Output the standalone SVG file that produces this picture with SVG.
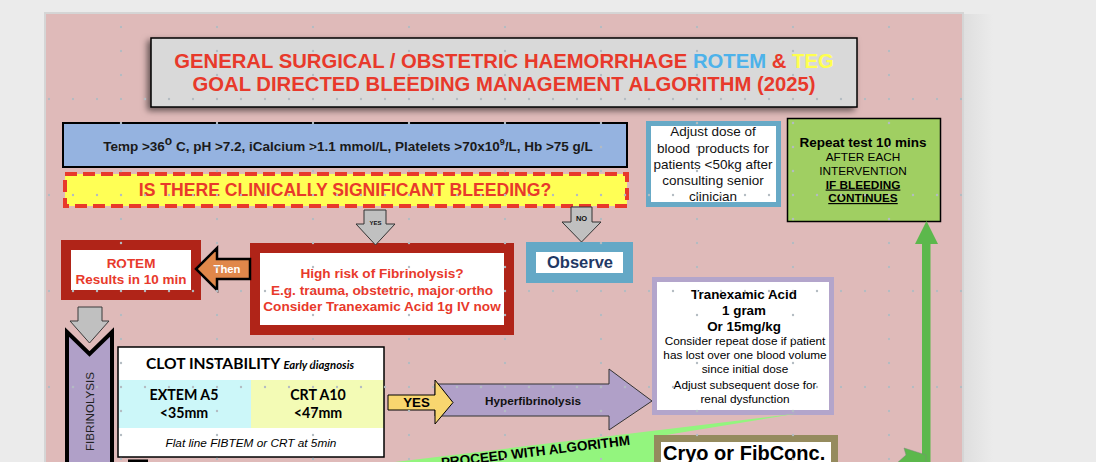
<svg xmlns="http://www.w3.org/2000/svg" width="1096" height="462" viewBox="0 0 1096 462">
<defs>
<style>
.s{font-family:"Liberation Sans",Arial,sans-serif}
.b{font-family:"Liberation Sans",Arial,sans-serif;font-weight:bold}
.c{font-family:Lato,"Open Sans",sans-serif;font-weight:bold}
.m{text-anchor:middle}
.redb{fill:#e8392b}
</style>
<filter id="shadow" x="-5%" y="-20%" width="110%" height="140%">
<feDropShadow dx="-3" dy="3" stdDeviation="3" flood-color="#000" flood-opacity="0.55"/>
</filter>
<pattern id="grid" patternUnits="userSpaceOnUse" x="23" y="1" width="96" height="96">
<g fill="#b3bcc2">
<circle cx="2" cy="2" r="1.2"/><circle cx="26" cy="2" r="1.2"/><circle cx="50" cy="2" r="1.2"/><circle cx="74" cy="2" r="1.2"/>
<circle cx="2" cy="26" r="1.2"/><circle cx="2" cy="50" r="1.2"/><circle cx="2" cy="74" r="1.2"/>
</g>
</pattern>
<linearGradient id="side" x1="0" x2="1" y1="0" y2="0">
<stop offset="0" stop-color="#dedede"/><stop offset="1" stop-color="#ebebeb"/>
</linearGradient>
</defs>
<rect width="1096" height="462" fill="#ebebeb"/>
<rect x="963" y="14" width="30" height="448" fill="url(#side)"/>
<rect x="45" y="13" width="918" height="452" fill="#dfbab9" stroke="#d5d5d5" stroke-width="2"/>

<g id="title">
<rect x="151" y="38" width="706" height="69" fill="#d9d9d9" stroke="#000" stroke-width="1.5" filter="url(#shadow)"/>
<text class="b m" x="504" y="68" font-size="20.3"><tspan fill="#e8392b">GENERAL SURGICAL / OBSTETRIC HAEMORRHAGE </tspan><tspan fill="#4db2ea">ROTEM</tspan><tspan fill="#e8392b"> &amp; </tspan><tspan fill="#ffff4f">TEG</tspan></text>
<text class="b m" x="504" y="91" font-size="20.3" fill="#e8392b">GOAL DIRECTED BLEEDING MANAGEMENT ALGORITHM (2025)</text>
</g>

<g id="targets">
<rect x="63" y="123" width="564" height="44" fill="#95b3e0" stroke="#000" stroke-width="2"/>
<text class="b m" x="348" y="151" font-size="13.5" fill="#1a1a1a">Temp &gt;36<tspan font-size="12" dy="-6">o</tspan><tspan dy="6"> C, pH &gt;7.2, iCalcium &gt;1.1 mmol/L, Platelets &gt;70x10</tspan><tspan font-size="9" dy="-6">9</tspan><tspan dy="6">/L, Hb &gt;75 g/L</tspan></text>
</g>

<g id="question">
<rect x="65" y="174" width="562" height="32" fill="#ffff55" stroke="#e8392b" stroke-width="4" stroke-dasharray="12 6"/>
<text class="b m redb" x="345" y="196" font-size="17.6">IS THERE CLINICALLY SIGNIFICANT BLEEDING?</text>
</g>

<g id="adjust-dose">
<rect x="648.5" y="123.5" width="130" height="81" fill="#fff" stroke="#67a9c6" stroke-width="5"/>
<g class="s m" font-size="13.5" fill="#111">
<text x="713" y="136">Adjust dose of</text>
<text x="713" y="152.5" xml:space="preserve">blood  products for</text>
<text x="713" y="169">patients &lt;50kg after</text>
<text x="713" y="185">consulting senior</text>
<text x="713" y="200.5">clinician</text>
</g>
</g>

<g id="repeat-test">
<rect x="787.5" y="118.5" width="153" height="103" fill="#a0cf62" stroke="#000" stroke-width="1.5"/>
<text class="b m" x="863" y="147" font-size="13.5" fill="#000">Repeat test 10 mins</text>
<text class="s m" x="863" y="161" font-size="11.8" fill="#000">AFTER EACH</text>
<text class="s m" x="863" y="175" font-size="11.8" fill="#000">INTERVENTION</text>
<text class="b m" x="863" y="188.5" font-size="11.8" fill="#000" text-decoration="underline">IF BLEEDING</text>
<text class="b m" x="863" y="202" font-size="11.8" fill="#000" text-decoration="underline">CONTINUES</text>
</g>

<g id="observe">
<rect x="531" y="247" width="97" height="31" fill="#fff" stroke="#64a8c6" stroke-width="10"/>
<text class="b m" x="580" y="268" font-size="16.5" fill="#1f3864">Observe</text>
</g>

<g id="high-risk">
<rect x="255" y="248" width="254" height="82" fill="#fff" stroke="#b02418" stroke-width="10"/>
<g class="b m redb" font-size="13.6">
<text x="382" y="277.5">High risk of Fibrinolysis?</text>
<text x="382" y="294.5">E.g. trauma, obstetric, major ortho</text>
<text x="382" y="310.5">Consider Tranexamic Acid 1g IV now</text>
</g>
</g>

<g id="rotem">
<rect x="66" y="245" width="130" height="50" fill="#fff" stroke="#b02418" stroke-width="10"/>
<text class="b m redb" x="131" y="267.5" font-size="13.5">ROTEM</text>
<text class="b m redb" x="131" y="283.5" font-size="13.5">Results in 10 min</text>
</g>

<g id="fibrinolysis">
<polygon points="67,332 89.5,354 112,332 112,470 67,470" fill="#b0a0c8" stroke="#000" stroke-width="4"/>
<text class="s m" transform="translate(93.5,411.5) rotate(-90)" font-size="11.6" fill="#222">FIBRINOLYSIS</text>
</g>

<g id="clot-instability">
<rect x="118" y="347" width="266" height="110" fill="#fff"/>
<rect x="118" y="380" width="133" height="48" fill="#ccf7f9"/>
<rect x="251" y="380" width="133" height="48" fill="#f3fbb5"/>
<rect x="118" y="347" width="266" height="110" fill="none" stroke="#000" stroke-width="1.5"/>
<text class="c" x="146" y="368.5" font-size="15.6" fill="#000">CLOT INSTABILITY <tspan font-size="11.3" font-style="italic">Early diagnosis</tspan></text>
<text class="c m" x="184" y="399.5" font-size="14.2" fill="#000">EXTEM A5</text>
<text class="c m" x="184" y="417.5" font-size="14.2" fill="#000">&lt;35mm</text>
<text class="c m" x="318" y="399.5" font-size="14.2" fill="#000">CRT A10</text>
<text class="c m" x="318" y="417.5" font-size="14.2" fill="#000">&lt;47mm</text>
<text class="s m" x="251" y="446.5" font-size="11.8" font-style="italic" fill="#000">Flat line FIBTEM or CRT at 5min</text>
</g>

<g id="next-box">
<rect x="128" y="459.5" width="20" height="4" fill="#000"/>
</g>

<g id="tranexamic">
<rect x="654.5" y="279.5" width="177" height="133" fill="#fff" stroke="#b3a5cb" stroke-width="5"/>
<g class="b m" font-size="13.4" fill="#000">
<text x="744" y="298.5">Tranexamic Acid</text>
<text x="744" y="314.5">1 gram</text>
<text x="744" y="331">Or 15mg/kg</text>
</g>
<g class="s m" font-size="11.8" fill="#000">
<text x="745" y="344.5">Consider repeat dose if patient</text>
<text x="745" y="359">has lost over one blood volume</text>
<text x="745" y="372.5">since initial dose</text>
<text x="745" y="389">Adjust subsequent dose for</text>
<text x="745" y="403">renal dysfunction</text>
</g>
</g>

<g id="connectors">
<polygon points="364,210 386,210 386,224 395,224 375.5,245 356,224 364,224" fill="#c0c0c0" stroke="#333" stroke-width="1"/>
<text class="b m" x="375.5" y="225" font-size="6" fill="#111">YES</text>
<polygon points="571,207 592,207 592,222 601,222 581.5,242 562,222 571,222" fill="#c0c0c0" stroke="#333" stroke-width="1"/>
<text class="b m" x="581.5" y="221" font-size="7.5" fill="#111">NO</text>
<polygon points="196,269 217,248 217,259 250,259 250,279 217,279 217,290" fill="#e0874a" stroke="#000" stroke-width="2.5" stroke-linejoin="miter"/>
<text class="b m" x="227" y="273" font-size="11.3" fill="#fff">Then</text>
<polygon points="78,307 102,307 102,321 109,321 89.5,343 70,321 78,321" fill="#c0c0c0" stroke="#3a3a3a" stroke-width="1"/>
<polygon points="435,384 609,384 609,369 652,401 609,430 609,416 435,416" fill="#b0a0c8" stroke="#333" stroke-width="1"/>
<text class="b m" x="533" y="404.5" font-size="11.75" fill="#111">Hyperfibrinolysis</text>
<polygon points="388,395 435,395 435,380 453,402.5 435,424 435,410 388,410" fill="#f8d66f" stroke="#000" stroke-width="1"/>
<text class="b m" x="416.5" y="407" font-size="13.3" fill="#000">YES</text>
<polygon points="395,462 797,413.5 654,437 654,470 395,470" fill="#93f57e"/>
<text class="b m" transform="translate(536,456) rotate(-6.8)" font-size="13.5" fill="#000">PROCEED WITH ALGORITHM</text>
<rect x="922" y="243" width="8.5" height="222" fill="#5cb84c"/>
<polygon points="915,244 938,244 926.5,221" fill="#5cb84c"/>
<polygon points="904,448 926,455 926,463 897,463 906,455" fill="#5cb84c" stroke="#7a8a7a" stroke-width="0.5"/>
</g>

<g id="cryo">
<rect x="657.5" y="438.5" width="177" height="40" fill="#fff" stroke="#958b5e" stroke-width="7"/>
<text class="b" x="663" y="460" font-size="20" fill="#000">Cryo or FibConc.</text>
</g>

<rect x="46" y="14" width="916" height="448" fill="url(#grid)"/>
</svg>
